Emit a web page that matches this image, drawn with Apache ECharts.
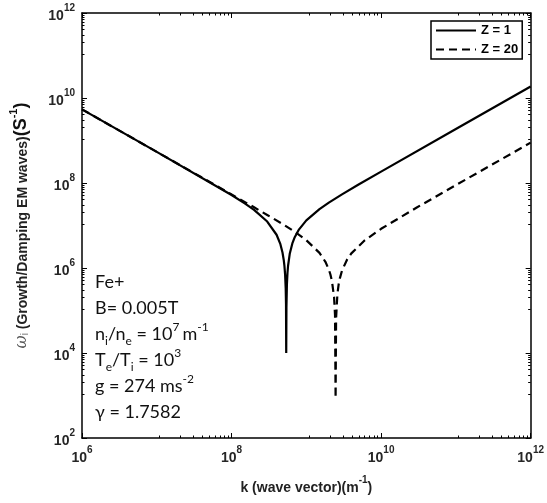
<!DOCTYPE html>
<html><head><meta charset="utf-8">
<script src="https://cdn.jsdelivr.net/npm/echarts@6/dist/echarts.min.js"></script>
<style>html,body{margin:0;padding:0;background:#fff}#c{width:547px;height:503px}</style>
</head><body><div id="c"></div>
<script>
// wave vector k (m^-1) and growth/damping rate omega_i (s^-1)
const kZ1 = [1e6,1e7,1e8,1.5e8,2e8,3e8,4e8,4.5e8,4.8e8,5e8,5.1e8,5.2e8,5.3e8,5.35e8,5.385e8,5.42e8,5.5e8,5.6e8,5.7e8,6e8,6.5e8,7e8,8e8,1e9,1.5e9,2e9,3e9,5e9,1e10,1e11,1e12];
const omegaZ1 = [5.4e9,5.4e8,5.21e7,3.32e7,2.33e7,1.24e7,6.06e6,3.63e6,2.32e6,1.5e6,1.1e6,7.1e5,3.3e5,1.42e5,1e4,1.18e5,4.12e5,7.73e5,1.13e6,2.16e6,3.78e6,5.31e6,8.13e6,1.32e7,2.43e7,3.45e7,5.4e7,9.19e7,1.85e8,1.86e9,1.86e10];
const kZ20 = [1e6,1e7,1e8,2e8,3e8,5e8,7e8,1e9,1.5e9,1.8e9,2e9,2.1e9,2.2e9,2.35e9,2.42e9,2.463e9,2.5e9,2.6e9,2.7e9,2.8e9,3e9,3.5e9,4e9,6e9,1e10,3e10,1e11,1e12];
const omegaZ20 = [5.4e9,5.4e8,5.39e7,2.68e7,1.77e7,1.04e7,7.09e6,4.51e6,2.27e6,1.4e6,9.2e5,7.02e5,4.97e5,2.06e5,7.8e4,870,6.5e4,2.37e5,4.03e5,5.63e5,8.7e5,1.57e6,2.21e6,4.44e6,8.36e6,2.65e7,8.9e7,8.9e8];
const seriesNames = ['Z = 1', 'Z = 20'];
const xRange = [1e6, 1e12];
const yRange = [1e2, 1e12];

const pairs = (xs, ys) => xs.map((x, i) => [x, ys[i]]);
const powLabel = v => '{b|10}{s|' + Math.round(Math.log10(v)) + '}';
const lblRich = {
  b: {fontFamily: 'Liberation Sans', fontWeight: 'bold', fontSize: 14, color: '#262626', lineHeight: 20, verticalAlign: 'bottom'},
  s: {fontFamily: 'Liberation Sans', fontWeight: 'bold', fontSize: 10, color: '#262626', lineHeight: 12, verticalAlign: 'top'}
};
const lineStyleAxis = {color: '#000', width: 1.5};
function mkAxis(isX, pos, main) {
  const r = isX ? xRange : yRange;
  return {
    type: 'log', logBase: 10, min: r[0], max: r[1], interval: 2, position: pos,
    axisLine: {show: true, onZero: false, lineStyle: lineStyleAxis},
    axisTick: {show: true, inside: true, length: 5, lineStyle: {color: '#000', width: 1}},
    minorTick: {show: true, splitNumber: 10, length: 2.5, lineStyle: {color: '#000', width: 1}},
    splitLine: {show: false}, minorSplitLine: {show: false},
    axisLabel: {show: main, formatter: powLabel, rich: lblRich, margin: 7}
  };
}
const xMain = mkAxis(true, 'bottom', true);
xMain.name = '{t|k (wave vector)(m}{s|-1}{t|)}';
xMain.nameLocation = 'middle';
xMain.nameGap = 37;
xMain.nameTextStyle = {rich: {
  t: {fontFamily: 'Liberation Sans', fontWeight: 'bold', fontSize: 14, color: '#222', lineHeight: 20, verticalAlign: 'bottom'},
  s: {fontFamily: 'Liberation Sans', fontWeight: 'bold', fontSize: 10, color: '#222', lineHeight: 12, verticalAlign: 'top'}
}};
const yMain = mkAxis(false, 'left', true);
yMain.name = '{w|ω}{ws|i}{t| (Growth/Damping EM waves)}{big|(S}{sup|-1}{big|)}';
yMain.nameLocation = 'middle';
yMain.nameRotate = 90;
yMain.nameGap = 52;
yMain.nameTextStyle = {rich: {
  w: {fontFamily: 'DejaVu Serif', fontStyle: 'italic', fontSize: 16, color: '#555', lineHeight: 22, verticalAlign: 'bottom'},
  ws: {fontFamily: 'Liberation Sans', fontSize: 10, color: '#555', lineHeight: 12, verticalAlign: 'bottom'},
  t: {fontFamily: 'Liberation Sans', fontWeight: 'bold', fontSize: 14, color: '#222', lineHeight: 22, verticalAlign: 'bottom'},
  big: {fontFamily: 'Liberation Sans', fontWeight: 'bold', fontSize: 18, color: '#111', lineHeight: 22, verticalAlign: 'bottom'},
  sup: {fontFamily: 'Liberation Sans', fontWeight: 'bold', fontSize: 11, color: '#111', lineHeight: 12, verticalAlign: 'top'}
}};

const annotText = [
  'Fe+',
  'B= 0.005T',
  'n{sb|i}/n{sb|e} = 10{sp|7 }m{sp|-1}',
  'T{sb|e}/T{sb|i} = 10{sp|3}',
  'g = 274 ms{sp|-2}',
  'γ = 1.7582'
].join('\n');

const chart = echarts.init(document.getElementById('c'), null, {renderer: 'canvas'});
chart.setOption({
  animation: false,
  backgroundColor: '#fff',
  grid: {left: 79, right: 15, top: 13, bottom: 65, containLabel: false},
  xAxis: [xMain, mkAxis(true, 'top', false)],
  yAxis: [yMain, mkAxis(false, 'right', false)],
  legend: {
    orient: 'vertical', left: 431, top: 21,
    itemWidth: 40, itemHeight: 14, itemGap: 6,
    padding: [3, 4, 3, 4],
    borderColor: '#000', borderWidth: 1.5, backgroundColor: '#fff',
    itemStyle: {opacity: 0},
    textStyle: {fontFamily: 'Liberation Sans', fontWeight: 'bold', fontSize: 13, color: '#000'},
    data: seriesNames
  },
  graphic: [{
    type: 'text', left: 95, top: 269, z: 10,
    style: {
      text: annotText, fontFamily: 'Lato', fontSize: 18, fill: '#111', lineHeight: 26,
      rich: {
        sb: {fontFamily: 'Lato', fontSize: 12, fill: '#111', lineHeight: 14, verticalAlign: 'bottom'},
        sp: {fontFamily: 'Lato', fontSize: 12, fill: '#111', lineHeight: 14, verticalAlign: 'top'}
      }
    }
  }],
  series: [
    {name: seriesNames[0], type: 'line', xAxisIndex: 0, yAxisIndex: 0, data: pairs(kZ1, omegaZ1),
     symbol: 'none', showSymbol: false, lineStyle: {color: '#000', width: 2.2, type: 'solid'}, itemStyle: {color: '#000'}},
    {name: seriesNames[1], type: 'line', xAxisIndex: 0, yAxisIndex: 0, data: pairs(kZ20, omegaZ20),
     symbol: 'none', showSymbol: false, lineStyle: {color: '#000', width: 2.2, type: [8, 5]}, itemStyle: {color: '#000'}}
  ]
});
</script></body></html>
